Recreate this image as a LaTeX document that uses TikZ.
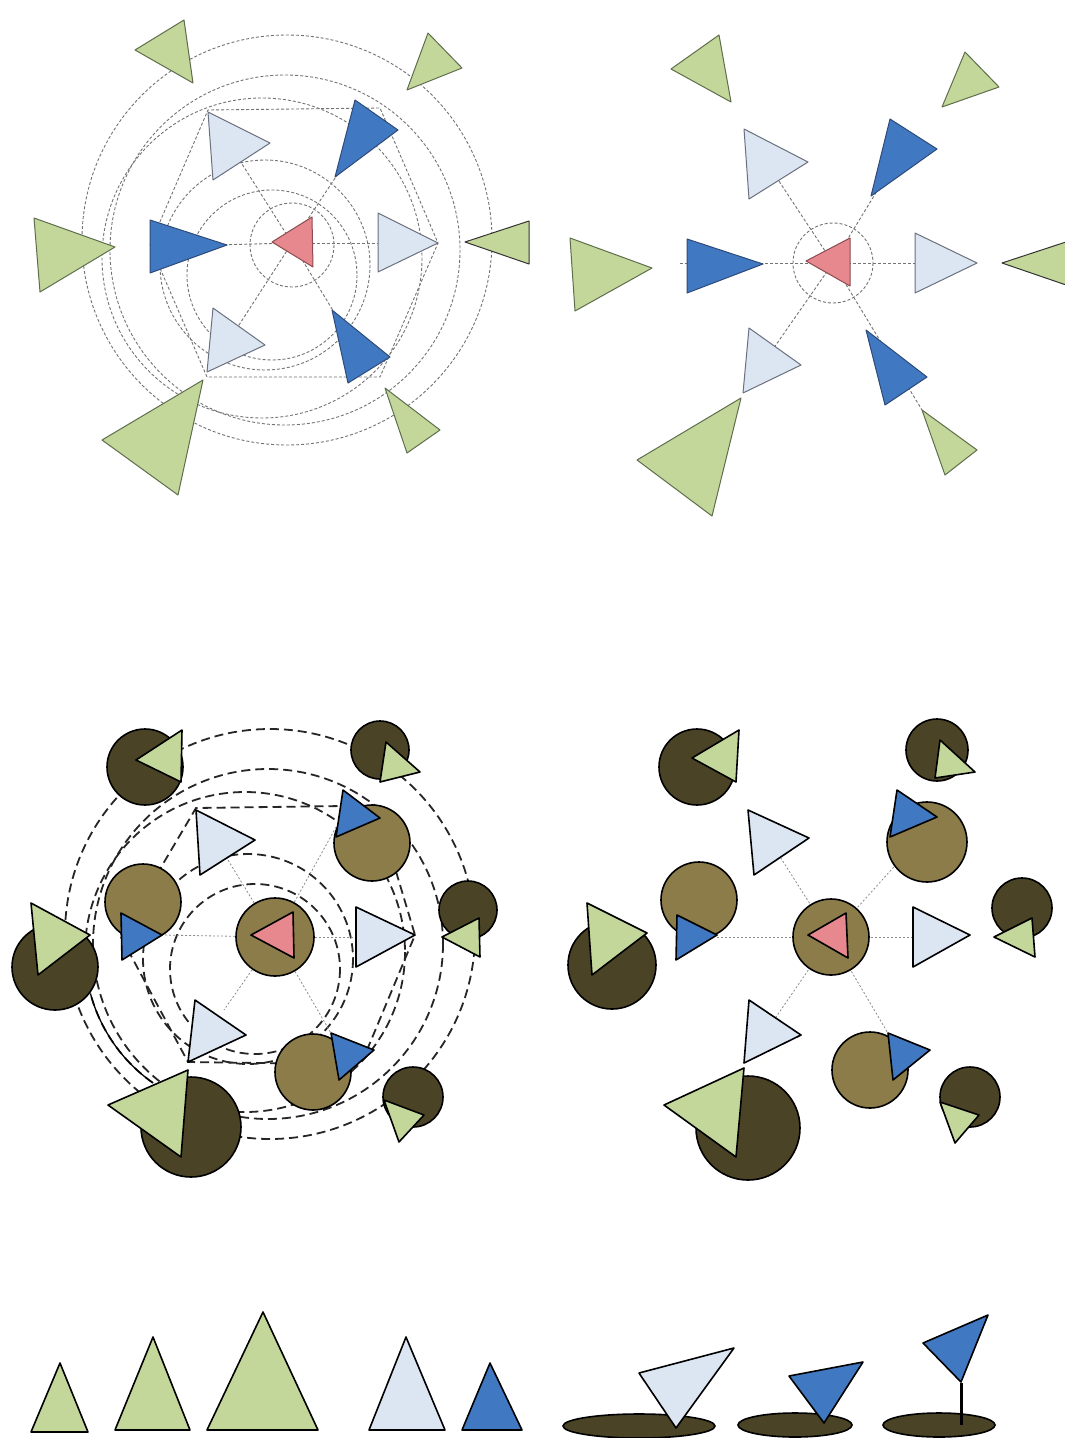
\documentclass[tikz,border=0pt]{standalone}
\usetikzlibrary{calc}
\definecolor{cg}{HTML}{C4D79B}
\definecolor{cgs}{HTML}{5E6E4C}
\definecolor{cl}{HTML}{DCE6F2}
\definecolor{cls}{HTML}{6A707E}
\definecolor{cb}{HTML}{4178C2}
\definecolor{cbs}{HTML}{2E4A78}
\definecolor{cr}{HTML}{E6888D}
\definecolor{crs}{HTML}{8A4C50}
\definecolor{col}{HTML}{8C7C4A}
\definecolor{cdk}{HTML}{4A4326}
\newcommand{\tri}[4]{\draw[#1] #2 -- #3 -- #4 -- cycle;}
\tikzset{
  gA/.style={fill=cg, draw=cgs, line width=1pt, line join=round},
  lA/.style={fill=cl, draw=cls, line width=1pt, line join=round},
  bA/.style={fill=cb, draw=cbs, line width=1pt, line join=round},
  rA/.style={fill=cr, draw=crs, line width=1pt, line join=round},
  gB/.style={fill=cg, draw=black, line width=1.6pt, line join=round},
  lB/.style={fill=cl, draw=black, line width=1.6pt, line join=round},
  bB/.style={fill=cb, draw=black, line width=1.6pt, line join=round},
  rB/.style={fill=cr, draw=black, line width=1.6pt, line join=round},
  olv/.style={fill=col, draw=black, line width=1.6pt},
  drk/.style={fill=cdk, draw=black, line width=1.6pt},
  tdash/.style={draw=black!55, line width=0.9pt, dash pattern=on 3pt off 2pt},
  hdash/.style={draw=black!85, line width=1.8pt, dash pattern=on 9pt off 5pt},
  spk/.style={draw=black!45, line width=0.8pt, dash pattern=on 2pt off 2pt},
}
\begin{document}
\begin{tikzpicture}[x=1pt,y=-1pt]
\useasboundingbox (0,0) rectangle (1065,1438);
\clip (0,0) rectangle (1065,1438);
\fill[white] (0,0) rectangle (1065,1438);

% ================= TOP LEFT =================
\coordinate (tlc) at (292,243);
\draw[tdash] (287,240) circle[radius=205];
\draw[tdash] (285,250) circle[radius=175];
\draw[tdash] (262,258) circle[radius=160];
\draw[tdash] (265,265) circle[radius=105];
\draw[tdash] (272,275) circle[radius=85];
\draw[tdash] (292,245) circle[radius=42];
\draw[tdash] (150,245) -- (208,110) -- (380,108) -- (438,243) -- (380,377) -- (207,377) -- cycle;
\foreach \p in {(230,145),(363,136),(176,246),(398,243),(228,342),(357,350)}
  \draw[tdash] (tlc) -- \p;
\tri{gA}{(135,50)}{(184,20)}{(193,83)}
\tri{gA}{(428,33)}{(462,68)}{(407,90)}
\tri{gA}{(34,218)}{(40,292)}{(115,247)}
\tri{gA,draw=black!80}{(465,242)}{(529,221)}{(529,264)}
\tri{gA}{(203,380)}{(102,440)}{(178,495)}
\tri{gA}{(385,388)}{(407,453)}{(440,430)}
\tri{lA}{(208,112)}{(213,180)}{(270,143)}
\tri{lA}{(378,213)}{(378,272)}{(438,243)}
\tri{lA}{(213,308)}{(207,372)}{(265,345)}
\tri{bA}{(355,100)}{(335,177)}{(398,130)}
\tri{bA}{(150,220)}{(150,273)}{(227,245)}
\tri{bA}{(332,310)}{(348,383)}{(390,357)}
\tri{rA}{(272,242)}{(312,217)}{(313,267)}

% ================= TOP RIGHT =================
\coordinate (trc) at (833,263);
\draw[tdash] (trc) circle[radius=40];
\foreach \p in {(767,163),(899,155),(680,263),(950,263),(764,362),(922,410)}
  \draw[tdash] (trc) -- \p;
\tri{gA}{(671,69)}{(719,35)}{(731,102)}
\tri{gA}{(965,52)}{(999,87)}{(942,107)}
\tri{lA}{(744,129)}{(749,199)}{(808,162)}
\tri{bA}{(890,119)}{(871,196)}{(937,149)}
\tri{gA}{(570,238)}{(575,311)}{(652,268)}
\tri{bA}{(687,239)}{(687,293)}{(763,264)}
\tri{rA}{(806,261)}{(850,238)}{(850,286)}
\tri{lA}{(915,233)}{(915,293)}{(977,263)}
\tri{gA,draw=black!80}{(1002,263)}{(1072,240)}{(1072,287)}
\tri{lA}{(749,328)}{(743,393)}{(801,365)}
\tri{bA}{(866,330)}{(885,405)}{(927,377)}
\tri{gA}{(741,398)}{(637,460)}{(712,516)}
\tri{gA}{(922,410)}{(945,475)}{(977,450)}

% ================= BOTTOM LEFT =================
\coordinate (blc) at (275,937);
\draw[hdash] (270,934) circle[radius=205];
\draw[hdash] (268,944) circle[radius=175];
\draw[hdash] (245,952) circle[radius=160];
\draw[hdash] (248,959) circle[radius=105];
\draw[hdash] (255,969) circle[radius=85];
\draw[black, line width=1.3pt, shift={(245,952)}] (165:160) arc[start angle=165, end angle=125, radius=160];
\draw[hdash] (121,935) -- (196,808) -- (343,806);
\draw[hdash] (380,818) -- (415,935) -- (367,1050);
\draw[hdash] (121,937) -- (188,1062) -- (330,1064);
\foreach \p in {(217,842),(340,820),(162,935),(356,937),(224,1010),(335,1040)}
  \draw[spk] (blc) -- \p;
% dark circles + green
\draw[drk] (145,767) circle[radius=38];
\tri{gB}{(136,760)}{(182,730)}{(181,782)}
\draw[drk] (380,750) circle[radius=29];
\tri{gB}{(386,742)}{(420,772)}{(380,782)}
\draw[drk] (468,910) circle[radius=29];
\tri{gB}{(442,937)}{(479,918)}{(480,957)}
\draw[drk] (55,967) circle[radius=43];
\tri{gB}{(31,903)}{(38,975)}{(90,935)}
\draw[drk] (191,1127) circle[radius=50];
\tri{gB}{(188,1070)}{(108,1105)}{(181,1157)}
\draw[drk] (413,1097) circle[radius=30];
\tri{gB}{(384,1100)}{(424,1115)}{(399,1142)}
% olive circles + blue
\draw[olv] (143,902) circle[radius=38];
\tri{bB}{(121,913)}{(122,960)}{(162,935)}
\draw[olv] (372,843) circle[radius=38];
\tri{bB}{(343,790)}{(336,837)}{(380,818)}
\draw[olv] (313,1072) circle[radius=38];
\tri{bB}{(331,1033)}{(339,1080)}{(374,1050)}
% light
\tri{lB}{(196,810)}{(200,875)}{(255,840)}
\tri{lB}{(356,907)}{(356,967)}{(415,935)}
\tri{lB}{(195,1000)}{(188,1062)}{(246,1035)}
% center
\draw[olv] (blc) circle[radius=39];
\tri{rB}{(251,935)}{(293,912)}{(294,958)}

% ================= BOTTOM RIGHT =================
\coordinate (brc) at (831,937);
\foreach \p in {(770,841),(900,860),(717,937),(913,937),(765,1033),(895,1045)}
  \draw[spk] (brc) -- \p;
\draw[drk] (1022,908) circle[radius=30];
\tri{gB}{(994,937)}{(1032,918)}{(1035,957)}
\draw[drk] (612,965) circle[radius=44];
\tri{gB}{(587,903)}{(592,975)}{(647,933)}
\draw[drk] (697,767) circle[radius=38];
\tri{gB}{(692,758)}{(739,730)}{(736,782)}
\draw[drk] (937,750) circle[radius=31];
\tri{gB}{(940,740)}{(975,772)}{(935,778)}
\draw[drk] (748,1128) circle[radius=52];
\tri{gB}{(744,1068)}{(664,1105)}{(736,1157)}
\draw[drk] (970,1097) circle[radius=30];
\tri{gB}{(940,1102)}{(979,1115)}{(955,1143)}
\draw[olv] (699,900) circle[radius=38];
\tri{bB}{(677,915)}{(676,960)}{(717,935)}
\draw[olv] (927,842) circle[radius=40];
\tri{bB}{(897,790)}{(890,837)}{(937,817)}
\draw[olv] (870,1070) circle[radius=38];
\tri{bB}{(888,1033)}{(893,1080)}{(930,1050)}
\tri{lB}{(748,810)}{(754,875)}{(809,838)}
\tri{lB}{(913,907)}{(913,967)}{(970,935)}
\tri{lB}{(749,1000)}{(744,1063)}{(801,1035)}
\draw[olv] (brc) circle[radius=38];
\tri{rB}{(808,935)}{(846,913)}{(848,958)}

% ================= BOTTOM ROW =================
\tri{gB}{(31,1432)}{(88,1432)}{(60,1363)}
\tri{gB}{(115,1430)}{(190,1430)}{(153,1337)}
\tri{gB}{(207,1430)}{(318,1430)}{(263,1312)}
\tri{lB}{(369,1430)}{(445,1430)}{(406,1337)}
\tri{bB}{(462,1430)}{(522,1430)}{(490,1363)}
\draw[drk] (639,1426) ellipse[x radius=76, y radius=12];
\tri{lB}{(676,1428)}{(639,1373)}{(734,1348)}
\draw[drk] (795,1425) ellipse[x radius=57, y radius=12];
\tri{bB}{(824,1423)}{(789,1376)}{(863,1362)}
\draw[drk] (939,1425) ellipse[x radius=56, y radius=12];
\coordinate (pb) at (961,1425);
\coordinate (pt) at (961,1383);
\draw[black, line width=3pt] (pb) -- (pt);
\tri{bB}{(961,1382)}{(923,1343)}{(988,1315)}
\end{tikzpicture}
\end{document}
